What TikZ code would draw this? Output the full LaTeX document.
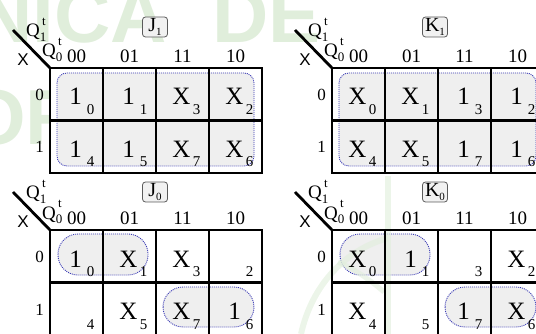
\documentclass[tikz,border=0pt]{standalone}
\usepackage{fontspec}
\setmainfont{Liberation Serif}
\setsansfont{Liberation Sans}
\usetikzlibrary{positioning}
\definecolor{wmark}{HTML}{E0EEDB}
\definecolor{loopfill}{HTML}{EFEFEF}
\definecolor{loopline}{HTML}{3B3BB5}
\definecolor{boxline}{HTML}{5A5A5A}
\definecolor{boxfill}{HTML}{F1F1F1}
\newcommand{\fsz}[1]{\fontsize{#1}{#1}\selectfont}
\newcommand{\qtlab}[1]{Q\rlap{\raisebox{-0.55ex}{\fsz{13}#1}}\raisebox{1.3ex}{\fsz{13}\,t}}
\newcommand{\tsub}[2]{#1\raisebox{-0.35ex}{\fsz{11}#2}}

\begin{document}
\begin{tikzpicture}[x=1pt,y=-1pt,
    kgrid/.style={draw=black,line width=2.8pt},
    kloop/.style={draw=loopline,fill=loopfill,line width=0.9pt,
      dash pattern=on 1pt off 1pt},
    cval/.style={font=\fsz{25},anchor=base,inner sep=0pt},
    cidx/.style={font=\fsz{15},anchor=base,inner sep=0pt},
    colhead/.style={font=\fsz{19},anchor=base,inner sep=0pt},
    rowhead/.style={font=\fsz{17},anchor=base,inner sep=0pt},
    cornerx/.style={font=\sffamily\fsz{17},anchor=base,inner sep=0pt},
    qlab/.style={font=\fsz{19},anchor=base west,inner sep=0pt},
    fname/.style={draw=boxline,fill=boxfill,rounded corners=3pt,line width=0.8pt,
      minimum width=25pt,minimum height=20pt,inner sep=1pt,font=\fsz{20}},
    wmtext/.style={text=wmark,font=\sffamily\bfseries\fsz{78},anchor=base west,inner sep=0pt},
  ]
    \useasboundingbox (0,0) rectangle (536,334);
    \clip (0,0) rectangle (536,334);

    \node[wmtext] (wm-a) at (-24,43) {NICA};
    \node[wmtext] (wm-b) at (212,43) {DE};
    \node[wmtext] (wm-c) at (-35,145) {OR};

    \foreach \ox/\oy in {50/68,332/68,50/230,332/230}
      \fill[white] (\ox,\oy) rectangle ++(212,105);

    \draw[kloop,rounded corners=10pt] (57,73) rectangle (254,166);
    \draw[kloop,rounded corners=10pt] (339,73) rectangle (536,166);
    \draw[kloop,rounded corners=20pt] (58,234) rectangle (148,275);
    \draw[kloop,rounded corners=20pt] (163,287) rectangle (254,327);
    \draw[kloop,rounded corners=20pt] (340,234) rectangle (430,275);
    \draw[kloop,rounded corners=20pt] (445,287) rectangle (536,327);

    \draw[wmark,line width=6pt,opacity=0.6] (388,176) -- (388,334);
    \draw[wmark,line width=6pt,opacity=0.6] (301,334) .. controls (312,285) and (345,250) .. (388,238);
    \draw[wmark,line width=5pt,opacity=0.6] (338,262) .. controls (352,268) and (368,278) .. (384,292);

    \foreach \mp/\ox/\oy in {j1/50/68,k1/332/68,j0/50/230,k0/332/230}{
      \draw[kgrid] (\ox,\oy) rectangle ++(212,105);
      \draw[kgrid] (\ox,\oy+52.5) -- ++(212,0);
      \foreach \k in {1,2,3}
        \draw[kgrid] (\ox+53*\k,\oy) -- ++(0,105);
      \draw[kgrid] (\ox-37,\oy-38) -- (\ox,\oy);
      \node[cornerx] (\mp-x) at (\ox-27,\oy-2) {X};
      \node[qlab] (\mp-q1) at (\ox-24,\oy-31) {\qtlab{1}};
      \node[qlab] (\mp-q0) at (\ox-8,\oy-11) {\qtlab{0}};
      \foreach \h [count=\k from 0] in {00,01,11,10}
        \node[colhead] (\mp-h\h) at (\ox+26.5+53*\k,\oy-5) {\h};
      \node[rowhead] (\mp-r0) at (\ox-10.5,\oy+32.5) {0};
      \node[rowhead] (\mp-r1) at (\ox-10.5,\oy+85) {1};
    }

    \node[fname] (j1-name) at (155,27) {\tsub{J}{1}};
    \node[fname] (k1-name) at (435,27) {\tsub{K}{1}};
    \node[fname] (j0-name) at (155,192) {\tsub{J}{0}};
    \node[fname] (k0-name) at (435,192) {\tsub{K}{0}};

    \foreach \c/\r/\v/\n in {0/0/1/0,1/0/1/1,2/0/X/3,3/0/X/2,0/1/1/4,1/1/1/5,2/1/X/7,3/1/X/6}{
      \node[cval] (j1-v\n) at (50+53*\c+25.5,68+52.5*\r+37) {\v};
      \node[cidx] (j1-i\n) at (50+53*\c+40.5,68+52.5*\r+46.5) {\n};
    }
    \foreach \c/\r/\v/\n in {0/0/X/0,1/0/X/1,2/0/1/3,3/0/1/2,0/1/X/4,1/1/X/5,2/1/1/7,3/1/1/6}{
      \node[cval] (k1-v\n) at (332+53*\c+25.5,68+52.5*\r+37) {\v};
      \node[cidx] (k1-i\n) at (332+53*\c+40.5,68+52.5*\r+46.5) {\n};
    }
    \foreach \c/\r/\v/\n in {0/0/1/0,1/0/X/1,2/0/X/3,3/0/{}/2,0/1/{}/4,1/1/X/5,2/1/X/7,3/1/1/6}{
      \node[cval] (j0-v\n) at (50+53*\c+25.5,230+52.5*\r+37) {\v};
      \node[cidx] (j0-i\n) at (50+53*\c+40.5,230+52.5*\r+46.5) {\n};
    }
    \foreach \c/\r/\v/\n in {0/0/X/0,1/0/1/1,2/0/{}/3,3/0/X/2,0/1/X/4,1/1/{}/5,2/1/1/7,3/1/X/6}{
      \node[cval] (k0-v\n) at (332+53*\c+25.5,230+52.5*\r+37) {\v};
      \node[cidx] (k0-i\n) at (332+53*\c+40.5,230+52.5*\r+46.5) {\n};
    }
  \end{tikzpicture}
\end{document}
